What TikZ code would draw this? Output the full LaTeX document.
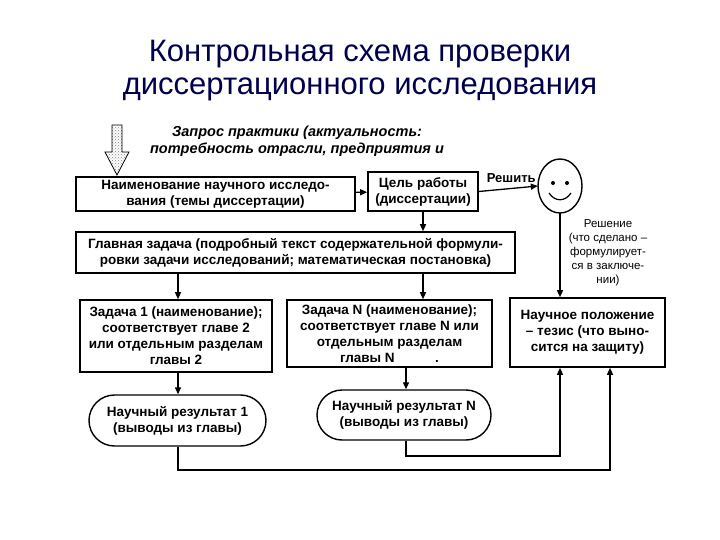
\documentclass[tikz,border=0pt]{standalone}
\usepackage{fontspec}
\setmainfont{Liberation Sans}
\usetikzlibrary{arrows.meta,shapes.misc,patterns}
\begin{document}
\begin{tikzpicture}[x=1pt,y=-1pt,
  box/.style={draw,line width=1.6pt,align=center,font=\fontsize{13.5}{16}\selectfont\bfseries,inner sep=1pt},
  res/.style={draw,line width=1.4pt,rounded rectangle,align=center,font=\fontsize{13.5}{16}\selectfont\bfseries,inner sep=1pt},
  arr/.style={line width=1.3pt,-{Triangle[length=7pt,width=6pt]}},
  ln/.style={line width=1.3pt}]
\useasboundingbox (0,0) rectangle (720,540);
\node[font=\fontsize{31}{33}\selectfont,align=center,text=black!70!blue] (title) at (360,71) {Контрольная схема проверки\\диссертационного исследования};
% big arrow
\node (bigarrow) at (117,150) {};
\draw[line width=0.8pt,pattern=crosshatch dots,pattern color=gray] (112,125) -- (122,125) -- (122,152) -- (129,152) -- (117,175) -- (105,152) -- (112,152) -- cycle;
\node[font=\fontsize{14.5}{17}\selectfont\bfseries\itshape,align=center] (req) at (297,141) {Запрос практики (актуальность:\\потребность отрасли, предприятия и};
\node[box,minimum width=279pt,minimum height=34pt] (b1) at (215.5,194) {Наименование научного исследо-\\вания (темы диссертации)};
\node[box,minimum width=110pt,minimum height=39pt] (b2) at (423,191.5) {Цель работы\\(диссертации)};
\draw[line width=1.4pt] (560,186) ellipse (22pt and 27pt);
\node (smile) at (560,186) [minimum width=44pt,minimum height=54pt] {};
\fill (553,183) circle (2pt) (567,183) circle (2pt);
\draw[line width=1.2pt] (549,193) .. controls (555,202) and (565,202) .. (571,193);
\draw[arr] (b1) -- (b2);
\draw[arr] (b2.east) -- node[above,font=\fontsize{13}{15}\selectfont\bfseries,pos=0.55,yshift=2pt] {Решить} (smile.west);
\node[box,minimum width=439pt,minimum height=41pt] (b3) at (295.5,252.5) {Главная задача (подробный текст содержательной формули-\\ровки задачи исследований; математическая постановка)};
\draw[arr] (b2) -- (b3.north -| b2);
\node[box,minimum width=192pt,minimum height=72pt] (b4) at (176,336) {Задача 1 (наименование);\\соответствует главе 2\\или отдельным разделам\\главы 2};
\node[box,minimum width=205pt,minimum height=67pt] (b5) at (389.5,333.5) {Задача N (наименование);\\соответствует главе N или\\отдельным разделам\\главы N\hspace{3em}.};
\node[box,minimum width=155pt,minimum height=69pt] (b6) at (587.5,332.5) {Научное положение\\– тезис (что выно-\\сится на защиту)};
\node[font=\fontsize{11.5}{14}\selectfont,align=center] (sol) at (608,253) {Решение\\(что сделано –\\формулирует-\\ся в заключе-\\нии)};
\coordinate (c1) at (178,273);
\draw[arr] (b3.south -| c1) -- (b4.north -| c1);
\draw[arr] (b3.south -| b2) -- (b5.north -| b2);
\draw[arr] (smile.south) -- (b6.north -| smile);
\node[res,minimum width=179pt,minimum height=51pt] (r1) at (177.5,420.5) {Научный результат 1\\(выводы из главы)};
\node[res,minimum width=176pt,minimum height=50pt] (r2) at (404,415) {Научный результат N\\(выводы из главы)};
\draw[arr] (b4.south -| c1) -- (r1.north -| c1);
\coordinate (c2) at (406,0);
\draw[arr] (b5.south -| c2) -- (r2.north -| c2);
\coordinate (k1) at (406,456);
\coordinate (k2) at (178,470);
\coordinate (k3) at (560,456);
\coordinate (k4) at (610,470);
\draw[arr] (r2.south -| k1) -- (k1) -- (k3) -- (b6.south -| k3);
\draw[arr] (r1.south -| k2) -- (k2) -- (k4) -- (b6.south -| k4);
\end{tikzpicture}
\end{document}
